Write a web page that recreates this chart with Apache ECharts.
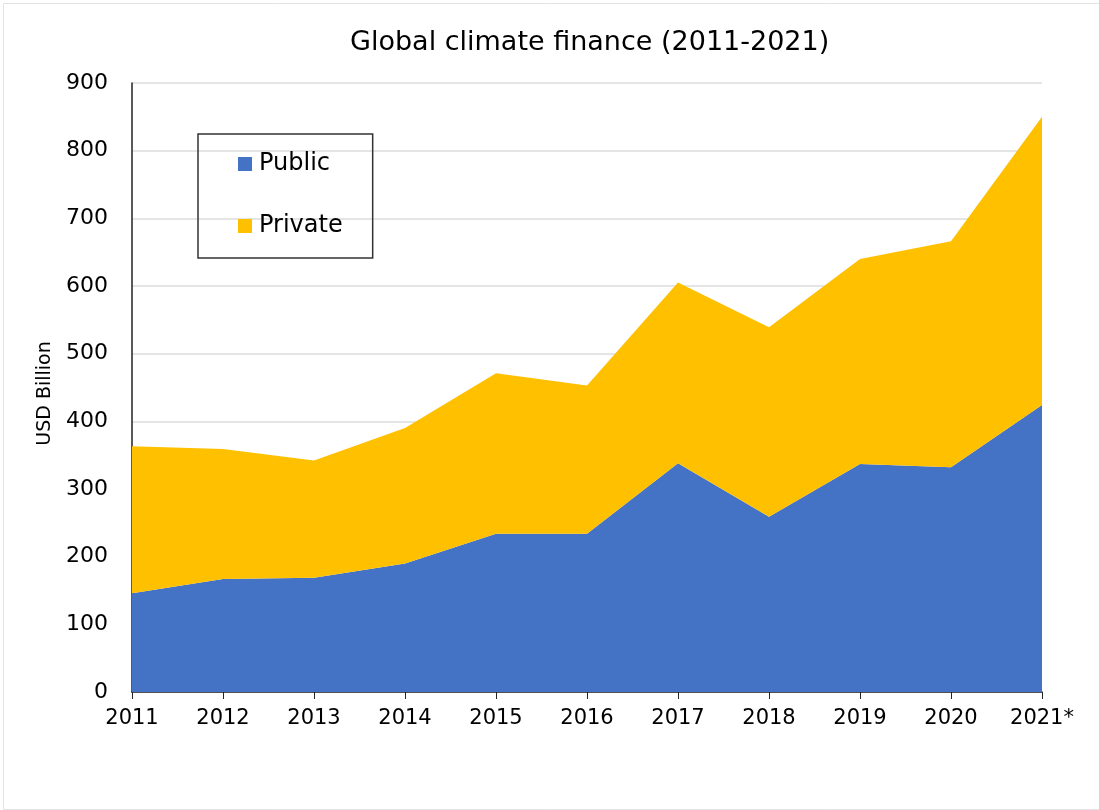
<!DOCTYPE html>
<html>
<head>
<meta charset="utf-8">
<script src="https://cdn.jsdelivr.net/npm/echarts@6/dist/echarts.min.js"></script>
<style>
html,body{margin:0;padding:0;background:#fff;}
#chart{width:1099px;height:810px;}
</style>
</head>
<body>
<div id="chart"></div>
<script>
const years = ['2011','2012','2013','2014','2015','2016','2017','2018','2019','2020','2021*'];
const publicFinance = [146, 167, 169, 190, 234, 234, 338, 259, 337, 332, 424];
const privateFinance = [217, 192, 173, 200, 237, 219, 267, 280, 303, 334, 426];
const seriesNames = ['Public', 'Private'];
const titleText = 'Global climate finance (2011-2021)';
const yAxisName = 'USD Billion';

const FONT = '"DejaVu Sans", "Noto Sans", sans-serif';
const chart = echarts.init(document.getElementById('chart'), null, {renderer: 'canvas'});
chart.setOption({
  animation: false,
  textStyle: {fontFamily: FONT, color: '#000'},
  title: {
    text: titleText, left: 345, top: 24,
    textStyle: {fontFamily: FONT, fontSize: 27, fontWeight: 'normal', color: '#000'}
  },
  graphic: [{
    type: 'rect', left: 1, top: 1, z: -1,
    shape: {width: 1096, height: 806},
    style: {fill: 'none', stroke: '#e3e3e3', lineWidth: 1}
  }],
  legend: {
    orient: 'vertical', left: 198, top: 134,
    data: seriesNames,
    icon: 'rect', itemWidth: 14, itemHeight: 14, itemGap: 38,
    padding: [18, 30, 20, 40],
    borderColor: '#333', borderWidth: 1.5,
    textStyle: {fontFamily: FONT, fontSize: 24, color: '#000', padding: [0, 0, 0, 2]},
    itemStyle: {borderWidth: 0}
  },
  grid: {left: 132, right: 57, top: 83, bottom: 118, containLabel: false},
  xAxis: {
    type: 'category', data: years, boundaryGap: false,
    axisLine: {lineStyle: {color: '#222', width: 1.5}},
    axisTick: {show: true, length: 7, lineStyle: {color: '#222'}},
    axisLabel: {fontFamily: FONT, fontSize: 21, color: '#000', margin: 16},
    splitLine: {show: false}
  },
  yAxis: {
    type: 'value', min: 0, max: 900, interval: 100,
    name: yAxisName, nameLocation: 'middle', nameGap: 77, nameRotate: 90,
    nameTextStyle: {fontFamily: FONT, fontSize: 19, color: '#000', padding: [0, 12, 0, 0]},
    axisLine: {show: true, lineStyle: {color: '#222', width: 1.5}},
    axisTick: {show: false},
    axisLabel: {fontFamily: FONT, fontSize: 22, color: '#000', margin: 24},
    splitLine: {lineStyle: {color: '#dcdcdc', width: 1.5}}
  },
  series: [
    {
      name: seriesNames[0], type: 'line', stack: 'total', data: publicFinance,
      symbol: 'none', lineStyle: {width: 0}, itemStyle: {color: '#4472C4'},
      areaStyle: {color: '#4472C4', opacity: 1}
    },
    {
      name: seriesNames[1], type: 'line', stack: 'total', data: privateFinance,
      symbol: 'none', lineStyle: {width: 0}, itemStyle: {color: '#FFC000'},
      areaStyle: {color: '#FFC000', opacity: 1}
    }
  ]
});
</script>
</body>
</html>
